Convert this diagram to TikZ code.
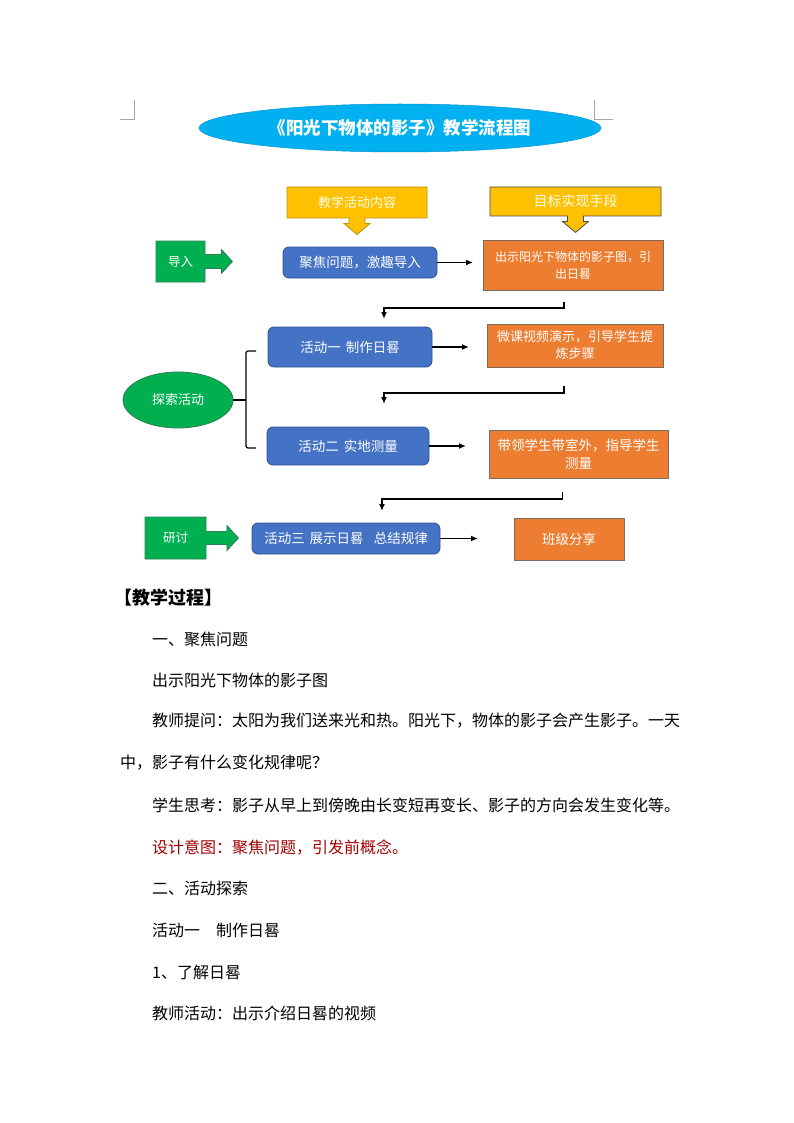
\documentclass[tikz,border=0pt]{standalone}
\usepackage{fontspec}
\setmainfont{Noto Sans CJK SC}
\usetikzlibrary{shapes.geometric,shapes.arrows,arrows.meta}
\definecolor{cyanT}{HTML}{00B0F0}
\definecolor{blueB}{HTML}{4472C4}
\definecolor{blueD}{HTML}{2F528F}
\definecolor{orangeB}{HTML}{ED7D31}
\definecolor{orangeD}{HTML}{7A6A60}
\definecolor{greenB}{HTML}{00B050}
\definecolor{greenD}{HTML}{2F7D55}
\definecolor{yellowB}{HTML}{FFC000}
\definecolor{yellowD}{HTML}{BF9000}
\definecolor{redT}{HTML}{A00000}
\definecolor{markG}{HTML}{A6A6A6}
\newcommand{\gapw}{\hspace{5pt}}
\tikzset{
  bluebox/.style={draw=blueD, fill=blueB, rounded corners=6pt, text=white,
    font=\fontsize{13.5}{15}\selectfont, inner sep=0pt, line width=0.8pt},
  orangebox/.style={draw=orangeD, fill=orangeB, text=white, align=center,
    font=\fontsize{12}{17}\selectfont, inner sep=0pt, line width=0.8pt},
  ybox/.style={shape=arrow box, draw=yellowD, fill=yellowB, text=white!92!yellow,
    font=\fontsize{13}{15}\selectfont, inner sep=0pt, line width=0.8pt,
    arrow box shaft width=16pt, arrow box head extend=5pt, arrow box tip angle=100,
    arrow box arrows={south:16pt}},
  gbox/.style={shape=arrow box, draw=greenD, fill=greenB, text=white,
    font=\fontsize{12.5}{15}\selectfont, inner sep=0pt, line width=0.8pt,
    arrow box shaft width=14pt, arrow box head extend=5pt, arrow box tip angle=95},
  link/.style={-{Latex[length=7pt,width=6pt]}, line width=1.4pt},
  brace/.style={line width=1.2pt, rounded corners=2pt},
  cornermark/.style={draw=markG, line width=0.6pt},
  body/.style={anchor=west, inner sep=0pt, font=\fontsize{16}{16}\selectfont}
}
\begin{document}
\begin{tikzpicture}[x=1pt,y=-1pt]
\useasboundingbox[fill=white] (0,0) rectangle (794,1123);
% corner marks
\coordinate (mL1) at (120,119); \coordinate (mL2) at (134,119); \coordinate (mL3) at (134,100);
\coordinate (mR1) at (613,119); \coordinate (mR2) at (594,119); \coordinate (mR3) at (594,100);
\draw[cornermark] (mL1) -- (mL2) -- (mL3);
\draw[cornermark] (mR1) -- (mR2) -- (mR3);
% title
\node[ellipse, fill=cyanT, draw=cyanT!85!black, line width=0.5pt, minimum width=402pt, minimum height=48pt,
  text=white, font=\fontsize{17.5}{18}\selectfont\bfseries] (title) at (400,128) {《阳光下物体的影子》教学流程图};
% header boxes
\node[ybox, minimum width=140pt, minimum height=31pt] (y1) at (357,202.5) {教学活动内容};
\node[ybox, draw=black!70, minimum width=171pt, minimum height=29pt, font=\fontsize{14}{15}\selectfont] (y2) at (575.5,201.5) {目标实现手段};
% row 1
\node[gbox, arrow box arrows={east:27pt}, minimum width=49pt, minimum height=41pt] (g1) at (180.5,261.5) {导入};
\node[bluebox, minimum width=154pt, minimum height=31pt] (b1) at (360,262.5) {聚焦问题，激趣导入};
\node[orangebox, minimum width=180pt, minimum height=50pt] (o1) at (573,265) {出示阳光下物体的影子图，引\\出日晷};
\coordinate (a1) at (473,262.5);
\draw[link] (b1) -- (a1);
\coordinate (c1s) at (564,302);
\coordinate (c1e) at (384,319);
\draw[link] (c1s) -- ++(0,6) -| (c1e);
% row 2
\node[bluebox, minimum width=164pt, minimum height=40pt] (b2) at (350,347) {活动一\gapw 制作日晷};
\node[orangebox, minimum width=176pt, minimum height=43pt, font=\fontsize{13}{17}\selectfont] (o2) at (575,345.5) {微课视频演示，引导学生提\\炼步骤};
\coordinate (a2) at (469,347);
\draw[link] (b2) -- (a2);
\coordinate (c2s) at (564,386);
\coordinate (c2e) at (384,404);
\draw[link] (c2s) -- ++(0,7) -| (c2e);
% explore
\node[ellipse, fill=greenB, draw=greenD, line width=0.8pt, minimum width=110pt, minimum height=56pt,
  text=white, font=\fontsize{13}{15}\selectfont] (e) at (178,400) {探索活动};
\coordinate (bm) at (246,400);
\coordinate (bt) at (256,351);
\coordinate (bb) at (256,448);
\draw[line width=1.2pt] (e) -- (bm);
\draw[brace] (bt) -- (246,351) -- (246,448) -- (bb);
% row 3
\node[bluebox, minimum width=162pt, minimum height=38pt] (b3) at (348,446) {活动二\gapw 实地测量};
\node[orangebox, minimum width=179pt, minimum height=48pt, font=\fontsize{13.5}{18}\selectfont] (o3) at (578.5,454) {带领学生带室外，指导学生\\测量};
\coordinate (a3) at (466,446);
\draw[link] (b3) -- (a3);
\coordinate (c3s) at (562.5,492);
\coordinate (c3e) at (382,511);
\draw[link] (c3s) -- ++(0,7) -| (c3e);
% row 4
\node[gbox, arrow box arrows={east:32pt}, arrow box head extend=6pt, arrow box shaft width=13pt,
  minimum width=61pt, minimum height=42pt] (g2) at (175.5,538) {研讨};
\node[bluebox, minimum width=188pt, minimum height=31pt] (b4) at (346,538.5) {活动三\gapw 展示日晷\gapw\gapw 总结规律};
\node[orangebox, minimum width=110pt, minimum height=42pt, font=\fontsize{13.5}{15}\selectfont] (o4) at (569,539) {班级分享};
\coordinate (a4) at (478,538.5);
\draw[link] (b4) -- (a4);
% body text
\node[body, font=\fontsize{18}{18}\selectfont\bfseries] (t0) at (114,598) {【教学过程】};
\node[body] (t1) at (152,639) {一、聚焦问题};
\node[body] (t2) at (152,680) {出示阳光下物体的影子图};
\node[body] (t3) at (152,721) {教师提问：太阳为我们送来光和热。阳光下，物体的影子会产生影子。一天};
\node[body] (t4) at (120,763) {中，影子有什么变化规律呢？};
\node[body] (t5) at (152,805) {学生思考：影子从早上到傍晚由长变短再变长、影子的方向会发生变化等。};
\node[body, text=redT] (t6) at (152,847) {设计意图：聚焦问题，引发前概念。};
\node[body] (t7) at (152,888) {二、活动探索};
\node[body] (t8) at (152,930) {活动一　制作日晷};
\node[body] (t9) at (152,972) {1、了解日晷};
\node[body] (t10) at (152,1013) {教师活动：出示介绍日晷的视频};
\end{tikzpicture}
\end{document}
